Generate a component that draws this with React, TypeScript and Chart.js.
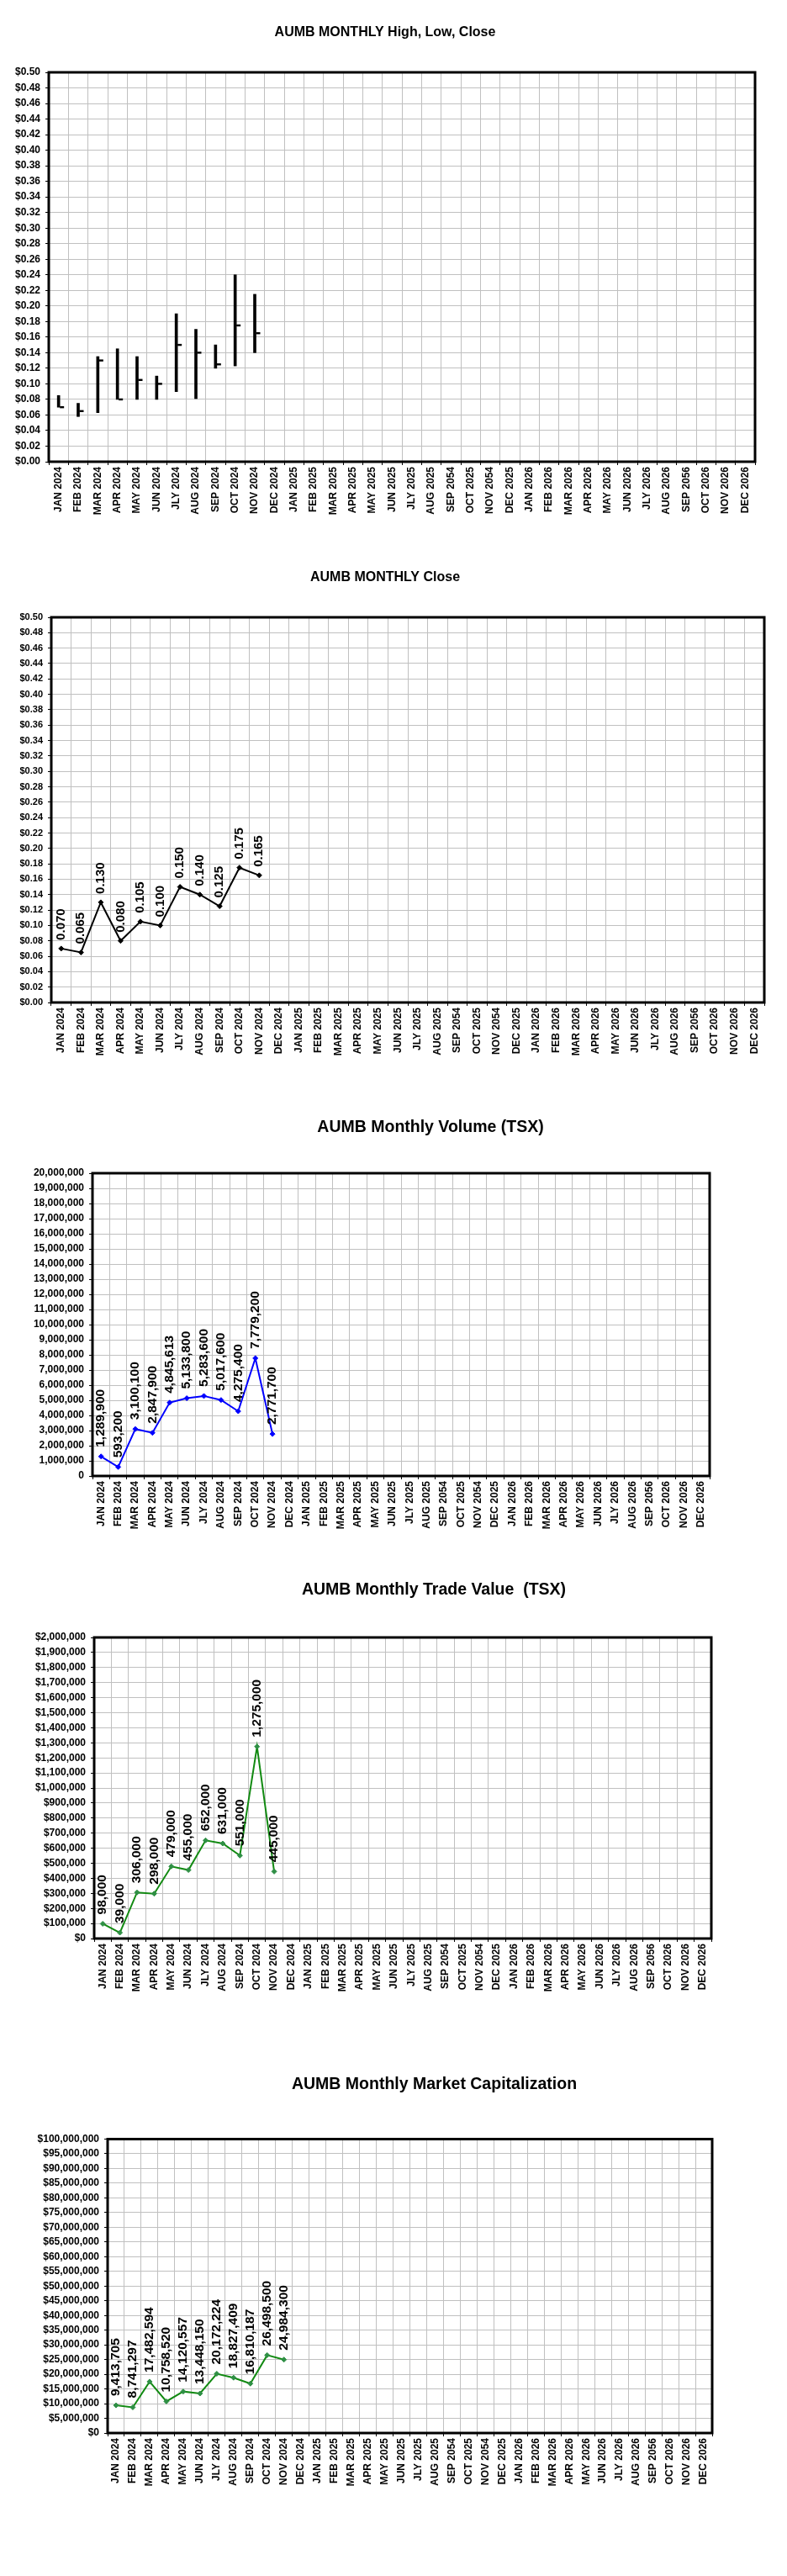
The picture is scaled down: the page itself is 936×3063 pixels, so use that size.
import React, { useEffect, useRef } from "react";
import { Chart, registerables } from "chart.js";

Chart.register(...registerables);

// ---------- DATA ----------
const months: string[] = [
  "JAN 2024", "FEB 2024", "MAR 2024", "APR 2024", "MAY 2024", "JUN 2024",
  "JLY 2024", "AUG 2024", "SEP 2024", "OCT 2024", "NOV 2024", "DEC 2024",
  "JAN 2025", "FEB 2025", "MAR 2025", "APR 2025", "MAY 2025", "JUN 2025",
  "JLY 2025", "AUG 2025", "SEP 2054", "OCT 2025", "NOV 2054", "DEC 2025",
  "JAN 2026", "FEB 2026", "MAR 2026", "APR 2026", "MAY 2026", "JUN 2026",
  "JLY 2026", "AUG 2026", "SEP 2056", "OCT 2026", "NOV 2026", "DEC 2026",
];

const highs: number[] = [0.085, 0.075, 0.135, 0.145, 0.135, 0.11, 0.19, 0.17, 0.15, 0.24, 0.215];
const lows: number[] = [0.07, 0.058, 0.063, 0.08, 0.08, 0.08, 0.09, 0.081, 0.12, 0.123, 0.14];
const closes: number[] = [0.07, 0.065, 0.13, 0.08, 0.105, 0.1, 0.15, 0.14, 0.125, 0.175, 0.165];

const volumes: number[] = [
  1289900, 593200, 3100100, 2847900, 4845613, 5133800, 5283600, 5017600, 4275400, 7779200, 2771700,
];
const tradeValues: number[] = [
  98000, 39000, 306000, 298000, 479000, 455000, 652000, 631000, 551000, 1275000, 445000,
];
const marketCaps: number[] = [
  9413705, 8741297, 17482594, 10758520, 14120557, 13448150, 20172224, 18827409, 16810187, 26498500, 24984300,
];

const priceAxis = { min: 0, max: 0.5, step: 0.02 };
const volumeAxis = { min: 0, max: 20000000, step: 1000000 };
const tradeAxis = { min: 0, max: 2000000, step: 100000 };
const capAxis = { min: 0, max: 100000000, step: 5000000 };

// ---------- STYLE ----------
const FONT = '"Liberation Sans", Arial, Helvetica, sans-serif';
const W = 936;

const fmtPrice = (v: number) => "$" + Number(v).toFixed(2);
const fmtInt = (v: number) => Math.round(Number(v)).toLocaleString("en-US");
const fmtDollar = (v: number) => "$" + Math.round(Number(v)).toLocaleString("en-US");

type Spec = {
  key: string;
  top: number;
  height: number;
  plot: { left: number; right: number; top: number; bottom: number };
  title: { text: string; cx: number; cy: number; size: number };
  axis: { min: number; max: number; step: number };
  yFmt: (v: number) => string;
  yFont: number;
  kind: "hlc" | "line";
  values?: number[];
  color?: string;
  pointColor?: string;
  labelFmt?: (v: number) => string;
  labelSize?: number;
  labelGap?: number;
};

const specs: Spec[] = [
  {
    key: "hlc",
    top: 0,
    height: 640,
    plot: { left: 58, right: 898, top: 86, bottom: 549 },
    title: { text: "AUMB MONTHLY High, Low, Close", cx: 458, cy: 38.5, size: 16 },
    axis: priceAxis,
    yFmt: fmtPrice,
    yFont: 12,
    kind: "hlc",
  },
  {
    key: "close",
    top: 640,
    height: 640,
    plot: { left: 61, right: 909, top: 734, bottom: 1192 },
    title: { text: "AUMB MONTHLY Close", cx: 458, cy: 686.5, size: 16 },
    axis: priceAxis,
    yFmt: fmtPrice,
    yFont: 11,
    kind: "line",
    values: closes,
    color: "#000000",
    pointColor: "#000000",
    labelFmt: (v) => v.toFixed(3),
    labelSize: 15,
    labelGap: 10,
  },
  {
    key: "volume",
    top: 1280,
    height: 580,
    plot: { left: 110, right: 844, top: 1395, bottom: 1755 },
    title: { text: "AUMB Monthly Volume (TSX)", cx: 512, cy: 1340.5, size: 19.5 },
    axis: volumeAxis,
    yFmt: fmtInt,
    yFont: 12,
    kind: "line",
    values: volumes,
    color: "#0000ff",
    pointColor: "#0000ff",
    labelFmt: fmtInt,
    labelSize: 15.5,
    labelGap: 11,
  },
  {
    key: "trade",
    top: 1860,
    height: 580,
    plot: { left: 112, right: 846, top: 1947, bottom: 2305 },
    title: { text: "AUMB Monthly Trade Value  (TSX)", cx: 516, cy: 1890.5, size: 19.5 },
    axis: tradeAxis,
    yFmt: fmtDollar,
    yFont: 12,
    kind: "line",
    values: tradeValues,
    color: "#128a12",
    pointColor: "#2f8f45",
    labelFmt: fmtInt,
    labelSize: 15.5,
    labelGap: 11,
  },
  {
    key: "cap",
    top: 2440,
    height: 623,
    plot: { left: 128, right: 847, top: 2543.5, bottom: 2893 },
    title: { text: "AUMB Monthly Market Capitalization", cx: 516.5, cy: 2479, size: 19.5 },
    axis: capAxis,
    yFmt: fmtDollar,
    yFont: 12,
    kind: "line",
    values: marketCaps,
    color: "#128a12",
    pointColor: "#2f8f45",
    labelFmt: fmtInt,
    labelSize: 15.5,
    labelGap: 11,
  },
];

function buildConfig(spec: Spec): any {
  const relTop = spec.plot.top - spec.top;
  const relBottom = spec.plot.bottom - spec.top;

  const decor = {
    id: "decor_" + spec.key,
    afterDraw(chart: any) {
      const ctx = chart.ctx;
      const { left, top, right, bottom } = chart.chartArea;
      ctx.save();
      // frame
      ctx.strokeStyle = "#000";
      ctx.lineWidth = 3;
      ctx.strokeRect(left, top, right - left, bottom - top);
      // title
      ctx.fillStyle = "#000";
      ctx.font = `bold ${spec.title.size}px ${FONT}`;
      ctx.textAlign = "center";
      ctx.textBaseline = "middle";
      ctx.fillText(spec.title.text, spec.title.cx, spec.title.cy - spec.top);

      const xs = chart.scales.x;
      const ys = chart.scales.y;
      if (spec.kind === "hlc") {
        // close ticks, to the right of each high-low bar
        closes.forEach((c, i) => {
          const x = xs.getPixelForValue(i);
          const y = ys.getPixelForValue(c);
          ctx.fillStyle = "#000";
          ctx.fillRect(x + 1.5, y - 1.2, 5, 2.4);
        });
      } else if (spec.values && spec.labelFmt) {
        const meta = chart.getDatasetMeta(0);
        ctx.font = `bold ${spec.labelSize}px ${FONT}`;
        ctx.textAlign = "left";
        ctx.textBaseline = "middle";
        ctx.fillStyle = "#000";
        spec.values.forEach((v, i) => {
          const pt = meta.data[i];
          if (!pt) return;
          ctx.save();
          ctx.translate(pt.x, pt.y - (spec.labelGap || 10));
          ctx.rotate(-Math.PI / 2);
          ctx.fillText(spec.labelFmt!(v), 0, 0);
          ctx.restore();
        });
      }
      ctx.restore();
    },
  };

  const datasets: any[] =
    spec.kind === "hlc"
      ? [
          {
            type: "bar",
            data: highs.map((h, i) => [lows[i], h]),
            backgroundColor: "#000",
            borderWidth: 0,
            barThickness: 3,
          },
        ]
      : [
          {
            type: "line",
            data: spec.values,
            borderColor: spec.color,
            borderWidth: 2,
            pointStyle: "rectRot",
            pointRadius: 3,
            pointBackgroundColor: spec.pointColor,
            pointBorderColor: spec.pointColor,
            pointBorderWidth: 1,
            tension: 0,
            fill: false,
          },
        ];

  return {
    type: spec.kind === "hlc" ? "bar" : "line",
    data: { labels: months, datasets },
    options: {
      responsive: false,
      animation: false,
      devicePixelRatio: 1,
      events: [],
      layout: {
        padding: { left: 0, right: W - spec.plot.right, top: relTop, bottom: 0 },
      },
      plugins: {
        legend: { display: false },
        title: { display: false },
        tooltip: { enabled: false },
      },
      scales: {
        x: {
          type: "category",
          offset: true,
          grid: {
            offset: true,
            color: "#c0c0c0",
            lineWidth: 1,
            drawTicks: true,
            tickLength: 4,
            tickColor: "#000",
          },
          border: { display: false },
          ticks: {
            autoSkip: false,
            maxRotation: 90,
            minRotation: 90,
            padding: 2,
            color: "#000",
            font: { family: FONT, size: 12, weight: "bold" },
          },
          afterFit: (s: any) => {
            s.height = spec.height - relBottom;
          },
        },
        y: {
          type: "linear",
          min: spec.axis.min,
          max: spec.axis.max,
          grid: {
            color: "#c0c0c0",
            lineWidth: 1,
            drawTicks: true,
            tickLength: 4,
            tickColor: "#000",
          },
          border: { display: false },
          ticks: {
            stepSize: spec.axis.step,
            autoSkip: false,
            padding: 6,
            color: "#000",
            font: { family: FONT, size: spec.yFont, weight: "bold" },
            callback: (v: any) => spec.yFmt(Number(v)),
          },
          afterFit: (s: any) => {
            s.width = spec.plot.left;
          },
        },
      },
    },
    plugins: [decor],
  };
}

function ChartCanvas({ spec }: { spec: Spec }) {
  const ref = useRef<HTMLCanvasElement | null>(null);
  useEffect(() => {
    if (!ref.current) return;
    const chart = new Chart(ref.current, buildConfig(spec));
    return () => chart.destroy();
  }, [spec]);
  return (
    <canvas
      ref={ref}
      width={W}
      height={spec.height}
      style={{ position: "absolute", left: 0, top: spec.top, width: W, height: spec.height, display: "block" }}
    />
  );
}

export default function App() {
  return (
    <div
      style={{
        position: "absolute",
        left: 0,
        top: 0,
        width: W,
        height: 3063,
        background: "#ffffff",
        overflow: "hidden",
      }}
    >
      {specs.map((s) => (
        <ChartCanvas key={s.key} spec={s} />
      ))}
    </div>
  );
}
